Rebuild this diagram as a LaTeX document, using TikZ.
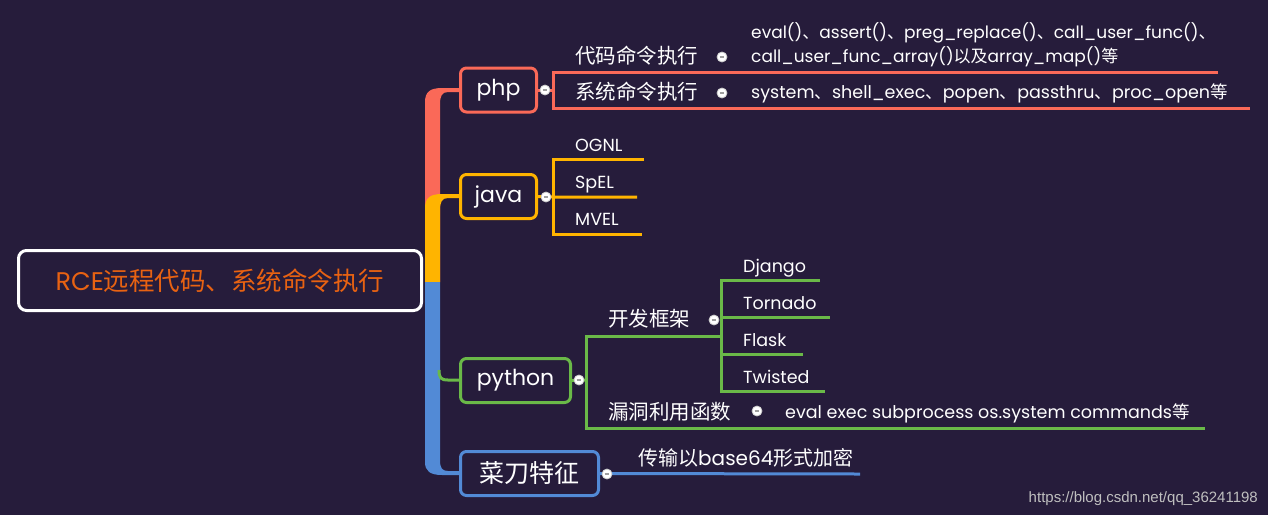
\documentclass[tikz,border=0pt]{standalone}
\usepackage{fontspec}
\setmainfont{Poppins}
\newfontfamily\cjk{Noto Sans CJK SC}
\newfontfamily\wmfont{Liberation Sans}
\usetikzlibrary{positioning}

\definecolor{bgdark}{RGB}{38,28,59}
\definecolor{phpred}{RGB}{250,105,88}
\definecolor{javayel}{RGB}{255,180,0}
\definecolor{pygreen}{RGB}{106,185,72}
\definecolor{ctblue}{RGB}{82,138,214}
\definecolor{rootorg}{RGB}{232,98,18}

\tikzset{
  topic/.style={draw=#1, line width=3pt, rounded corners=6pt, minimum height=44pt, inner sep=0pt, text=white, font=\fontsize{22}{26}\selectfont},
  leaf/.style={anchor=base west, inner sep=0pt, text=white, font=\fontsize{17.5}{21}\selectfont},
  zhleaf/.style={anchor=base west, inner sep=0pt, text=white, font=\cjk\fontsize{20.5}{24}\selectfont},
  knob/.style={circle, fill=white, draw=gray!40, line width=0.8pt, inner sep=0pt, minimum size=10pt,
    path picture={\draw[gray!75, line width=1.1pt] ([xshift=-2.4pt]path picture bounding box.center) -- ([xshift=2.4pt]path picture bounding box.center);}},
  twig/.style={draw=#1, line width=3pt},
}

\begin{document}
\begin{tikzpicture}[x=1pt,y=-1pt]
  \fill[bgdark] (0,0) rectangle (1268,515);
  \useasboundingbox (0,0) rectangle (1268,515);

  % main branches
  \fill[phpred] (425,282) -- (425,102) .. controls (425,92) and (430,88) .. (442,88) -- (460,88) -- (460,92) -- (448,92) .. controls (442,92) and (440,96) .. (440,104) -- (440,282) -- cycle;
  \fill[javayel] (425,282) -- (425,208) .. controls (425,198) and (430,194) .. (442,194) -- (460,194) -- (460,198) -- (448,198) .. controls (442,198) and (440,202) .. (440,210) -- (440,282) -- cycle;
  \fill[ctblue] (425,282) -- (425,462) .. controls (425,471) and (430,475) .. (442,475) -- (460,475) -- (460,471) -- (448,471) .. controls (442,471) and (440,468) .. (440,460) -- (440,282) -- cycle;
  \draw[twig=pygreen] (439,370) .. controls (439,378) and (441,380) .. (448,380) -- (460,380);

  \node[draw=white, line width=3pt, rounded corners=8pt, minimum width=403pt, minimum height=60pt,
        text=rootorg, font=\fontsize{25.5}{30}\selectfont] (root) at (220,280.5) {RCE{\cjk 远程代码、系统命令执行}};

  \node[topic=phpred, minimum width=76pt] (php) at (498.5,90) {php};
  \node[topic=javayel, minimum width=76pt] (java) at (498.5,196.5) {java};
  \node[topic=pygreen, minimum width=110pt] (python) at (515.5,380.5) {python};
  \node[topic=ctblue, minimum width=138pt, font=\cjk\fontsize{25}{30}\selectfont] (caidao) at (529.5,473.5) {菜刀特征};

  % php
  \coordinate (phpj) at (553,90);
  \draw[twig=phpred] (php.east) -- (phpj);
  \draw[twig=phpred] (1218,72) -- (553,72) -- (553,108) -- (1250,108);
  \node[zhleaf] (dmzx) at (575,63) {代码命令执行};
  \node[zhleaf] (xtml) at (575,99) {系统命令执行};
  \node[leaf, font=\fontsize{17}{21}\selectfont] (phpfna) at (751,38) {eval(){\cjk 、}assert(){\cjk 、}preg\_replace(){\cjk 、}call\_user\_func(){\cjk 、}};
  \node[leaf, font=\fontsize{17}{21}\selectfont] (phpfnb) at (751,62) {call\_user\_func\_array(){\cjk 以及}array\_map(){\cjk 等}};
  \node[leaf] (sysfn) at (751,98) {system{\cjk 、}shell\_exec{\cjk 、}popen{\cjk 、}passthru{\cjk 、}proc\_open{\cjk 等}};

  % java
  \coordinate (javaj) at (553,197);
  \draw[twig=javayel] (java.east) -- (javaj) -- (637,197);
  \draw[twig=javayel] (644,159) -- (553,159) -- (553,234) -- (642,234);
  \node[leaf] (ognl) at (575,151) {OGNL};
  \node[leaf] (spel) at (575,188) {SpEL};
  \node[leaf] (mvel) at (575,225) {MVEL};

  % python
  \coordinate (pyj) at (586,380);
  \draw[twig=pygreen] (python.east) -- (pyj);
  \draw[twig=pygreen] (721,336) -- (586,336) -- (586,428) -- (1205,428);
  \draw[twig=pygreen] (820,280) -- (721,280) -- (721,391) -- (825,391);
  \draw[twig=pygreen] (721,317) -- (830,317);
  \draw[twig=pygreen] (721,354) -- (803,354);
  \node[zhleaf] (kfkj) at (608,326) {开发框架};
  \node[zhleaf] (ldly) at (608,419) {漏洞利用函数};
  \node[leaf] (django) at (743,272) {Django};
  \node[leaf] (tornado) at (743,309) {Tornado};
  \node[leaf] (flask) at (743,346) {Flask};
  \node[leaf] (twisted) at (743,383) {Twisted};
  \node[leaf] (pyfn) at (785,418) {eval exec subprocess os.system commands{\cjk 等}};

  % caidao
  \draw[twig=ctblue] (caidao.east) -- (860,474);
  \node[leaf, font=\fontsize{20}{24}\selectfont] (b64) at (638,465) {{\cjk 传输以}base64{\cjk 形式加密}};

  % fold knobs
  \node[knob] (phpk) at (545,90) {};
  \node[knob] (javak) at (546,197) {};
  \node[knob] (pyk) at (579,380) {};
  \node[knob] (caidaok) at (607,474) {};
  \node[knob] (dmzxk) at (722,57) {};
  \node[knob] (xtmlk) at (722,93) {};
  \node[knob] (kfkjk) at (714,320) {};
  \node[knob] (ldlyk) at (757,411) {};

  \node[anchor=base east, inner sep=0pt, text=black!25, font=\wmfont\fontsize{15}{18}\selectfont] (wm) at (1258,502) {https://blog.csdn.net/qq\_36241198};
\end{tikzpicture}
\end{document}
